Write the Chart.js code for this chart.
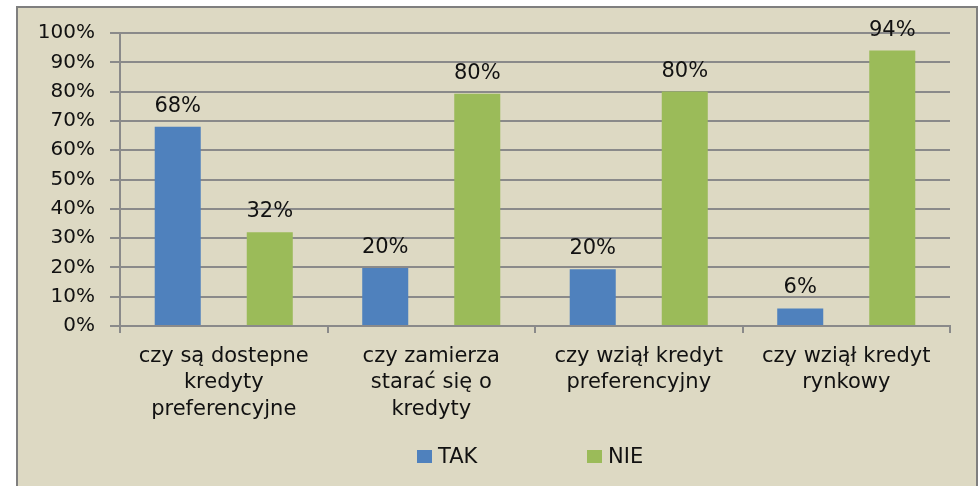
<!DOCTYPE html>
<html><head><meta charset="utf-8">
<script src="https://cdn.jsdelivr.net/npm/chart.js@4.4.1/dist/chart.umd.min.js"></script>
<style>html,body{margin:0;padding:0;background:#fff;overflow:hidden}#wrap{width:979px;height:486px;position:relative}</style>
</head><body><div id="wrap"><canvas id="c" width="979" height="486"></canvas></div>
<script>
const categories = [
  ["czy są dostepne", "kredyty", "preferencyjne"],
  ["czy zamierza", "starać się o", "kredyty"],
  ["czy wziął kredyt", "preferencyjny"],
  ["czy wziął kredyt", "rynkowy"]
];
const seriesNames = ["TAK", "NIE"];
const takValues = [68, 19.8, 19.4, 6];
const nieValues = [32, 79.3, 80, 94];
const takLabels = ["68%", "20%", "20%", "6%"];
const nieLabels = ["32%", "80%", "80%", "94%"];
const yMin = 0, yMax = 100, yStep = 10;

const FONT = "'DejaVu Sans', sans-serif";
const BLUE = "#4F81BD", GREEN = "#9BBB59";
const TEXT = "#111111", GRID = "#8a8a8a";

const bgPlugin = {
  id: "bg",
  beforeDraw(chart) {
    const ctx = chart.ctx;
    ctx.save();
    ctx.fillStyle = "#ffffff";
    ctx.fillRect(0, 0, chart.width, chart.height);
    ctx.fillStyle = "#DDD9C3";
    ctx.fillRect(17, 7, 960, 490);
    ctx.strokeStyle = "#7f7f7f";
    ctx.lineWidth = 2;
    ctx.strokeRect(17, 7, 960, 490);
    ctx.restore();
  }
};

const labelPlugin = {
  id: "vals",
  afterDatasetsDraw(chart) {
    const ctx = chart.ctx;
    ctx.save();
    ctx.font = "21px " + FONT;
    ctx.fillStyle = TEXT;
    ctx.textAlign = "center";
    ctx.textBaseline = "alphabetic";
    chart.data.datasets.forEach((ds, di) => {
      const meta = chart.getDatasetMeta(di);
      meta.data.forEach((bar, i) => {
        ctx.fillText(ds.valueLabels[i], bar.x, bar.y - 15);
      });
    });
    ctx.restore();
  }
};

const legendPlugin = {
  id: "customLegend",
  afterDraw(chart) {
    const ctx = chart.ctx;
    const starts = [417, 587];
    const cy = 457;
    ctx.save();
    ctx.font = "21px " + FONT;
    ctx.textBaseline = "middle";
    ctx.textAlign = "left";
    chart.data.datasets.forEach((ds, di) => {
      const x = starts[di];
      ctx.fillStyle = ds.backgroundColor;
      ctx.fillRect(x, cy - 7, 15, 13);
      ctx.fillStyle = TEXT;
      ctx.fillText(ds.label, x + 21, cy + 1);
    });
    ctx.restore();
  }
};

new Chart(document.getElementById("c"), {
  type: "bar",
  data: {
    labels: categories,
    datasets: [
      { label: seriesNames[0], data: takValues, valueLabels: takLabels, backgroundColor: BLUE,
        categoryPercentage: 0.887, barPercentage: 0.5 },
      { label: seriesNames[1], data: nieValues, valueLabels: nieLabels, backgroundColor: GREEN,
        categoryPercentage: 0.887, barPercentage: 0.5 }
    ]
  },
  options: {
    responsive: false,
    animation: false,
    layout: { padding: { top: 33, right: 29, bottom: 0, left: 0 } },
    plugins: { legend: { display: false }, tooltip: { enabled: false } },
    scales: {
      x: {
        grid: { display: true, drawOnChartArea: false, drawTicks: true, tickLength: 7, color: GRID, lineWidth: 2, offset: true },
        border: { color: GRID, width: 2 },
        ticks: { color: TEXT, font: { family: FONT, size: 21, lineHeight: 1.27 }, padding: 10, maxRotation: 0, autoSkip: false },
        afterFit(scale) { scale.height = 160; }
      },
      y: {
        min: yMin, max: yMax,
        grid: { color: GRID, lineWidth: 2, tickLength: 10, drawTicks: true },
        border: { color: GRID, width: 2 },
        ticks: { stepSize: yStep, color: TEXT, font: { family: FONT, size: 20 }, padding: 15,
          callback: v => v + "%" },
        afterFit(scale) { scale.width = 120; }
      }
    }
  },
  plugins: [bgPlugin, labelPlugin, legendPlugin]
});
</script>
</body></html>
